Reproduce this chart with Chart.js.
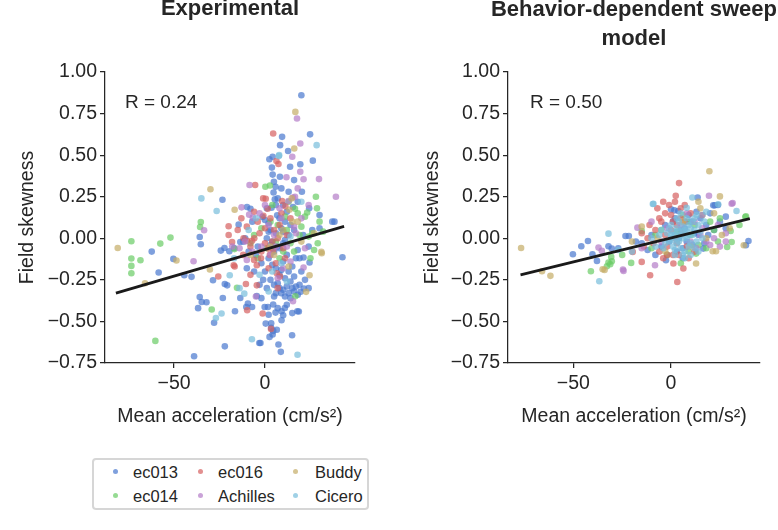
<!DOCTYPE html>
<html>
<head>
<meta charset="utf-8">
<script src="https://cdn.jsdelivr.net/npm/chart.js@4.4.1/dist/chart.umd.min.js"></script>
<style>
  body { margin: 0; width: 778px; height: 530px; overflow: hidden; background: #fff;
         font-family: "Liberation Sans", Arial, sans-serif; color: #262626; }
  canvas { position: absolute; top: 0; }
  .txt { position: absolute; white-space: nowrap; }
  .title { font-weight: bold; font-size: 22px; text-align: center; }
  #legend { position: absolute; left: 92px; top: 458px; width: 273px; height: 48px;
            border: 2px solid #d6d6d6; border-radius: 4px; }
  .dot { position: absolute; width: 5px; height: 5px; border-radius: 50%; }
  .lab { position: absolute; font-size: 16.5px; line-height: 16px; }
</style>
</head>
<body>
<canvas id="expChart" width="389" height="440" style="left:0px"></canvas>
<canvas id="modChart" width="389" height="440" style="left:389px"></canvas>

<div class="txt title" style="left:80px; width:300px; top:-3px; line-height:22px;">Experimental</div>
<div class="txt title" style="left:434px; width:400px; top:-6px; line-height:29px;">Behavior-dependent sweep<br>model</div>
<div class="txt" id="rExp" style="left:125px; top:92px; font-size:19px; line-height:19px;"></div>
<div class="txt" id="rMod" style="left:530px; top:92px; font-size:19px; line-height:19px;"></div>
<div id="legend"></div>

<script>
const groups = ['ec013', 'ec014', 'ec016', 'Achilles', 'Buddy', 'Cicero'];
const colors = ['#4878CF', '#6ACC65', '#D65F5F', '#B47CC7', '#C4AD66', '#77BEDB'];

const yTicks = [-0.75, -0.5, -0.25, 0, 0.25, 0.5, 0.75, 1.0];
const xTicks = [-50, 0];

const rValues = [0.24, 0.50];

// experimental panel, [acceleration, skewness]
const expEc013 = [[20,0.86],[9.4,0.61],[24.8,0.625],[8.3,0.56],[12.7,0.525],[4.2,0.49],[2.4,0.475],[26.3,0.467],
  [19.4,0.445],[13.8,0.43],[3.8,0.425],[4.2,0.383],[8.2,0.37],[4.9,0.34],[5.8,0.31],[4.7,0.275],[20.3,0.28],
  [-23.4,0.232],[-9.9,0.188],[-8,0.178],[5.4,0.234],[3.6,0.184],[15.4,0.188],[24.3,0.18],[30,0.14],[37,0.1],
  [38.2,0.1],[-14.5,0.082],[-1.4,0.128],[0,0.11],[2,0.09],[6.7,0.138],[7,0.24],[10,0.2],[12,0.16],[8,0.12],
  [3,0.05],[6,0.03],[9,0.06],[11,0.1],[14,0.08],[1,0.0],[4,-0.02],[7,-0.05],[10,-0.03],[13,0.02],[16,0.05],
  [-62.3,-0.08],[-58.5,-0.206],[-50.4,-0.124],[-44.4,-0.222],[-40.4,-0.232],[-35.9,0.008],[-35.3,-0.036],
  [-35.9,-0.353],[-34.8,-0.383],[-32.2,-0.385],[-36.8,-0.42],[-28,-0.508],[-39,-0.709],[-22.1,-0.65],
  [-28.6,-0.252],[-24.3,-0.074],[-22.3,-0.058],[-19.6,-0.078],[-17,-0.058],[-22.1,-0.275],[-20.8,-0.283],
  [-23.2,-0.359],[-16.5,-0.439],[-3.1,-0.63],[-2.5,-0.63],[-13.6,-0.359],[-9.4,-0.392],[-10.3,-0.413],
  [-7.1,-0.413],[-4.5,-0.347],[-0.2,-0.413],[1.6,-0.413],[0.4,-0.513],[3.4,-0.511],[3.4,-0.539],[4.5,-0.557],
  [2.5,-0.593],[4.2,-0.579],[6.5,-0.55],[7.4,-0.639],[8.7,-0.683],[14.9,-0.583],[9.1,-0.493],[10,-0.463],
  [9.1,-0.439],[10.9,-0.419],[4.5,-0.398],[5.8,-0.447],[17.8,-0.439],[18.6,-0.44],[19.6,-0.322],[21.4,-0.302],
  [42.6,-0.114],[8,-0.3],[10,-0.31],[12,-0.29],[13,-0.33],[15,-0.3],[16,-0.32],[11,-0.35],[14,-0.36],[17,-0.29],
  [9,-0.33],[18,-0.34],[6,-0.33],[-5,-0.1],[-2,-0.15],[0,-0.2],[2,-0.12],[5,-0.08],[6,-0.18],[8,-0.22],
  [10,-0.14],[12,-0.1],[13,-0.2],[15,-0.17],[17,-0.12],[3,-0.25],[7,-0.27],[1,-0.3],[-3,-0.28],[5,-0.35],
  [20,-0.2],[22,-0.25],[11,-0.24],[18,-0.07],[24,-0.05],[-9,-0.08],[-12,-0.02],[30,0.06],[26,0.05],
  [-13.6,-0.022],[-10.9,0],[19,-0.12],[21.2,-0.116],[24.5,-0.146],
  [-6,-0.2],[-1,-0.25],[4,-0.16],[9,-0.19],[14,-0.26],[16,-0.23],[19,-0.28],[12,-0.4],[7,-0.42],[2,-0.46],
  [15,-0.45],[-4,-0.05],[1,0.18],[6,0.2],[13,0.28],[9,0.3],[16,0.35],[2,0.04],[11,-0.01],[-7,0.1],[21,0.02],
  [18,0.22],[5,-0.28],[-2,-0.36],[24,-0.3],[8,-0.06],[3,-0.04],[10,0.04],[-10,-0.18]];
const expEc014 = [[0.2,0.31],[2.7,0.317],[28,0.25],[16.5,0.178],[18,0.15],[23.2,0.155],[28.6,0.18],[-35.3,0.098],
  [-35.7,0.068],[-73.5,-0.018],[-73.5,-0.122],[-73.5,-0.166],[-73.5,-0.21],[-68.5,-0.132],[-57.6,-0.032],
  [-52,0.004],[-29.3,-0.428],[-60.3,-0.617],[-16.8,-0.065],[-15.4,-0.298],[16.7,-0.349],[30,0.1],[26,0.03],
  [29,-0.03],[24,0.01],[22,0.13],[32,0.04],[10,-0.08],[6,-0.02],[-2,0.06],[3,0.1],[12,0.05],[8,-0.12],
  [14,-0.03],[-6,0.02],[20,0.07],[25,-0.12],
  [4,0.2],[7,0.08],[11,0.13],[-8,-0.03],[16,-0.08],[19,0.02],[-4,-0.12],[1,-0.06],[27,-0.07],[13,0.22]];
const expEc016 = [[4.5,0.63],[6.3,0.465],[7.4,0.447],[-5.4,0.32],[0.4,0.238],[1.5,0.178],[9.4,0.224],[11.2,0.192],
  [-0.9,0.135],[-20,0.072],[-25.7,-0.23],[-17.2,-0.162],[-9.8,-0.433],[-4.5,-0.283],[-10.5,-0.275],[-1.3,-0.452],
  [3.3,-0.545],[-11.8,0],[-9.9,-0.015],[-7.1,-0.015],[-5.9,0.0],[-18.1,-0.022],[1.8,-0.062],[4.5,-0.07],
  [2.7,-0.1],[-4.5,-0.162],[-2.2,-0.12],[6.5,-0.21],[8.2,-0.23],[-16.7,-0.17],[-8,-0.05],[-3,0.03],[0,-0.03],
  [5,0.05],[7,0.0],[10,-0.06],[-12,-0.1],[-6,-0.13],[2,-0.18],[12,0.02],[-15,0.05],[9,0.15],[3,0.12],[-4,0.1],
  [6,-0.15],
  [-10,0.07],[-6,0.16],[-13,0.12],[-2,-0.08],[4,-0.02],[8,0.08],[11,-0.12],[-1,0.24],[-8,-0.22],[14,0.12],
  [-20,0.02],[7,-0.3],[0,0.06]];
const expAchilles = [[17.6,0.72],[19.4,0.57],[15,0.49],[19.4,0.4],[11.8,0.367],[21.2,0.355],[29.7,0.356],
  [-8.5,0.32],[15.4,0.245],[16.5,0.25],[39,0.25],[12.9,0.224],[-12.9,0.186],[-8.7,0.142],[-6.7,0.124],
  [-33.5,0.048],[-39.3,-0.138],[15.4,-0.379],[21.2,-0.176],[-5,-0.35],[-10,-0.13],[-7,-0.08],[-2,-0.05],
  [5,0.02],[12,-0.05],[16,0.07],[20,0.12],[8,0.18],[-14,-0.06],[0,0.2],[10,-0.18],[14,-0.14],[3,-0.1],[24,0.2],
  [-18,-0.05],[-11,-0.02],[2,0.08],[6,-0.05],[9,0.12],[17,0.03],[22,-0.06],[-3,0.15],[7,-0.24],[18,0.3]];
const expBuddy = [[16.7,0.76],[16.1,0.54],[-30,0.295],[14.7,0.24],[-16.7,0.172],[13.4,0.172],[-81,-0.058],
  [-66,-0.27],[-48.7,-0.134],[-30.3,-0.188],[31,-0.082],[31.2,-0.09],[24.5,-0.222],[22.6,-0.322],[15,0.1],
  [10,0.05],[20,-0.02],[27,0.03],[5,-0.1],[13,-0.17],[8,0.02],[18,0.1],[3,-0.05],[-8,-0.1]];
const expCicero = [[28.4,0.56],[7.6,0.495],[7.8,0.5],[-35,0.24],[-26.6,0.164],[-23.9,-0.452],[-19.4,-0.222],
  [-7.2,-0.607],[17.9,-0.7],[-11.4,-0.333],[-27,-0.48],[-14,-0.3],[-9,0.05],[4,-0.2],[20,0.22],[12,-0.26],
  [-3,-0.22],[-5,0.12],[9,-0.15],[14,0.01],[2,-0.32],[-17,-0.12]];

// model panel
const modEc013 = [[13.6,0.245],[0,0.174],[1.7,0.168],[3.7,0.164],[22.4,0.198],[21.6,0.198],[-42.5,-0.016],
  [-45.9,-0.048],[-50.2,-0.096],[-40.2,-0.096],[-37.9,-0.136],[-32,-0.048],[-30.3,-0.062],[-23.3,0.014],
  [-21.6,0.014],[-2.6,-0.132],[16.5,-0.062],[38.3,-0.042],[39.6,-0.016],[-10,0.02],[-5,-0.05],[5,0.05],
  [8,-0.02],[10,0.1],[12,0.03],[15,0.12],[18,0.08],[3,-0.08],[6,-0.12],[20,0.15],[25,0.1],[-15,-0.03],
  [-27,-0.06],[28,0.06],[-8,-0.1],[2,0.12],
  [4,0.0],[7,0.06],[11,-0.04],[14,0.02],[-3,0.08],[1,0.1],[17,-0.03],[9,0.14],[6,-0.06],[-12,-0.07],[19,0.02],
  [22,0.05],[-1,-0.02],[13,0.16],[24,0.2],[28,0.13],[-18,-0.02]];
const modEc014 = [[38,0.128],[-30.6,-0.112],[-32.8,-0.168],[-31.1,-0.156],[-41,-0.198],[-32,-0.146],
  [-30.3,-0.138],[-20.4,-0.148],[-15,0.044],[12.8,-0.092],[28.7,-0.052],[31,-0.022],[30.5,0.044],[38.3,0.132],
  [20,0.1],[22,0.05],[16,0.14],[-5,0.05],[5,-0.15],[10,0.02],[-10,-0.06],[25,0.12],[14,-0.04],[-25,-0.1],[8,0.1],
  [3,0.04],[9,-0.08],[-2,-0.1],[12,0.08],[18,-0.06],[-8,0.02],[6,0.14],[24,-0.02],[35,0.08]];
const modEc016 = [[4.1,0.332],[2.4,0.256],[-19.6,-0.082],[-15,-0.142],[-10.7,-0.222],[1.2,-0.152],[6.3,-0.182],
  [3.2,-0.263],[-5,0.1],[-3,0.15],[0,0.05],[2,0.0],[-8,0.05],[-2,-0.05],[5,0.12],[7,0.2],[-6,-0.08],[3,0.08],
  [-12,0.0],[8,-0.05],[-1,0.2],[-14,-0.05],[10,0.15],[-4,-0.12],[1,-0.1],[6,0.03],[12,-0.08],
  [-9,-0.03],[-6,0.12],[-3,0.02],[0,0.14],[3,-0.03],[5,0.18],[-7,0.18],[1,0.1],[-11,0.08],[4,-0.1],[7,0.1],
  [-2,-0.1],[9,-0.12],[-15,0.03],[-4,0.22],[2,0.22]];
const modAchilles = [[19.4,0.256],[31.5,0.212],[31,0.208],[-37.1,-0.056],[-35.4,-0.076],[-24.6,-0.188],
  [-24.3,-0.196],[-17.2,0.064],[-8.2,-0.162],[15,0.02],[18,-0.02],[20,-0.04],[22,0.0],[25,-0.05],[-10,0.1],
  [12,0.1],[8,0.15],[-5,-0.02],[28,0.03],[16,0.06],[10,-0.02],[13,-0.06],[16,0.14],[24,0.08],[5,0.08],
  [-2,0.06],[28,-0.02],[-15,-0.06]];
const modBuddy = [[19.6,0.403],[25,0.252],[-76.7,-0.058],[-66,-0.198],[-61.7,-0.226],[-35,-0.186],[-34,-0.19],
  [12.8,-0.152],[21.3,-0.078],[23,-0.078],[37.2,-0.042],[15,0.18],[22,0.15],[-3,-0.08],[10,-0.05],[-15,0.07],
  [26,0.02],[-20,-0.02],[6,0.1],[18,0.0],[14,0.22],[-7,0.0],[30,0.06]];
const modCicero = [[10.9,0.245],[-9.3,0.206],[33.5,0.164],[8,0.184],[-32,0.028],[-36.7,-0.258],[24.1,0.204],
  [-9,0.208],[0,0.0],[2,0.02],[4,-0.02],[6,0.04],[8,0.0],[10,-0.03],[12,0.05],[3,0.06],[5,-0.06],[7,-0.08],
  [9,0.08],[11,0.02],[1,-0.05],[-2,0.03],[4,0.1],[6,-0.1],[13,-0.02],[14,0.08],[2,-0.1],[0,0.08],[-4,-0.06],
  [8,0.12],[10,-0.1],[-6,0.02],[16,0.0],[3,-0.03],[7,0.05],[5,0.02],[9,-0.05],[1,0.04],[-1,-0.02],[12,0.12],
  [-20,-0.08],[-27,-0.07],
  [3,0.12],[5,0.15],[7,-0.12],[11,0.1],[13,0.14],[15,0.04],[2,-0.07],[-1,0.06],[-3,-0.03],[0,0.02],[4,0.04],
  [6,0.0],[8,0.04],[10,0.06],[12,-0.06],[14,-0.08],[17,0.1],[-5,0.05],[-8,-0.05],[3,0.0],[6,0.07],[9,0.02],
  [1,-0.01],[18,0.16],[-10,0.0]];

// regression lines
const expFitX = [-82, 43.5];
const expFitY = [-0.33, 0.072];
const modFitX = [-77, 40.3];
const modFitY = [-0.22, 0.118];

function fmt(v, d) {
  return v.toFixed(d).replace('-', '\u2212');
}

function alpha(hex, a) {
  const n = parseInt(hex.slice(1), 16);
  return `rgba(${n >> 16}, ${(n >> 8) & 255}, ${n & 255}, ${a})`;
}

const ink = '#262626';
const tickFont = { family: '"Liberation Sans", Arial, sans-serif', size: 19.5 };

function makePanel(id, series, fitX, fitY, opts) {
  const datasets = series.map((pts, i) => ({
    label: groups[i],
    data: pts.map(p => ({ x: p[0], y: p[1] })),
    backgroundColor: alpha(colors[i], 0.7),
    pointRadius: 3.3,
    pointBorderWidth: 0,
    order: 10 - i
  }));
  datasets.push({
    label: 'fit',
    data: fitX.map((x, i) => ({ x: x, y: fitY[i] })),
    showLine: true,
    borderColor: '#1a1a1a',
    borderWidth: 2.8,
    pointRadius: 0,
    order: 0
  });

  return new Chart(document.getElementById(id), {
    type: 'scatter',
    data: { datasets },
    options: {
      responsive: false,
      animation: false,
      layout: { padding: { left: 0, top: 72, right: opts.padRight, bottom: 7 } },
      plugins: { legend: { display: false }, tooltip: { enabled: false } },
      scales: {
        x: {
          type: 'linear',
          min: opts.xMin,
          max: opts.xMax,
          afterBuildTicks: s => { s.ticks = xTicks.map(v => ({ value: v })); },
          afterFit: s => { s.height = 70; },
          ticks: { color: ink, font: tickFont, padding: 4, callback: v => fmt(v, 0) },
          grid: { drawOnChartArea: false, tickLength: 5, color: ink, lineWidth: 1.25 },
          border: { color: ink, width: 1.25 },
          title: { display: true, text: 'Mean acceleration (cm/s\u00b2)', color: ink,
                   font: tickFont, padding: { top: 0, bottom: 5 } }
        },
        y: {
          min: -0.75,
          max: 1.0,
          afterBuildTicks: s => { s.ticks = yTicks.map(v => ({ value: v })); },
          afterFit: s => { s.width = opts.yWidth; },
          ticks: { color: ink, font: tickFont, padding: 3, callback: v => fmt(v, 2) },
          grid: { drawOnChartArea: false, tickLength: 5, color: ink, lineWidth: 1.25 },
          border: { color: ink, width: 1.25 },
          title: { display: true, text: 'Field skewness', color: ink,
                   font: tickFont, padding: { top: opts.yTitlePad, bottom: 0 } }
        }
      }
    }
  });
}

makePanel('expChart', [expEc013, expEc014, expEc016, expAchilles, expBuddy, expCicero],
  expFitX, expFitY, { xMin: -88, xMax: 49.5, yWidth: 105, padRight: 34, yTitlePad: 15.5 });
makePanel('modChart', [modEc013, modEc014, modEc016, modAchilles, modBuddy, modCicero],
  modFitX, modFitY, { xMin: -83.4, xMax: 45.5, yWidth: 119, padRight: 18, yTitlePad: 31.5 });

document.getElementById('rExp').textContent = 'R = ' + rValues[0].toFixed(2);
document.getElementById('rMod').textContent = 'R = ' + rValues[1].toFixed(2);

// legend: 3 columns x 2 rows, filled column by column
const legend = document.getElementById('legend');
const colDot = [21, 106, 201];
const colText = [39, 124, 221];
const rowMid = [11.5, 35];
groups.forEach((name, i) => {
  const c = Math.floor(i / 2), r = i % 2;
  const dot = document.createElement('div');
  dot.className = 'dot';
  dot.style.left = (colDot[c] - 2.5) + 'px';
  dot.style.top = (rowMid[r] - 2.5) + 'px';
  dot.style.background = alpha(colors[i], 0.7);
  legend.appendChild(dot);
  const lab = document.createElement('div');
  lab.className = 'lab';
  lab.style.left = colText[c] + 'px';
  lab.style.top = (rowMid[r] - 7.5) + 'px';
  lab.textContent = name;
  legend.appendChild(lab);
});
</script>
</body>
</html>
